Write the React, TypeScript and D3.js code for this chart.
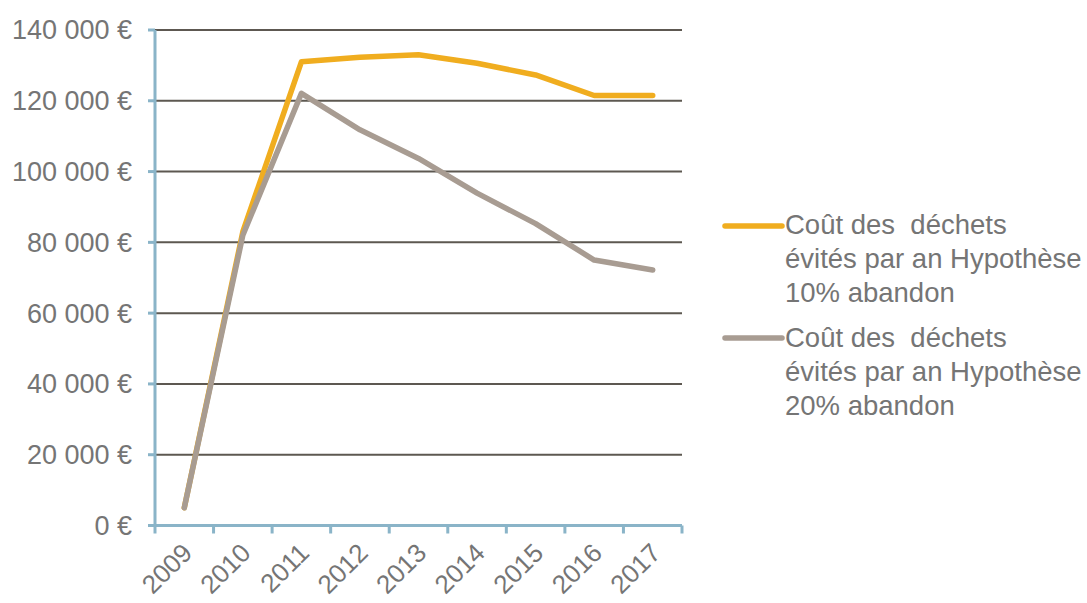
import React from "react";
import * as d3 from "d3";

const years = ["2009", "2010", "2011", "2012", "2013", "2014", "2015", "2016", "2017"];
const hyp10 = [5000, 83000, 131000, 132300, 133000, 130600, 127300, 121500, 121500];
const hyp20 = [5000, 82000, 122100, 111800, 103700, 93900, 85300, 75000, 72200];
const yTicks = [0, 20000, 40000, 60000, 80000, 100000, 120000, 140000];
const legend10 = ["Coût des  déchets", "évités par an Hypothèse", "10% abandon"];
const legend20 = ["Coût des  déchets", "évités par an Hypothèse", "20% abandon"];

const W = 1087;
const H = 603;
const FONT = "'Liberation Sans', Arial, sans-serif";
const TEXT = "#757575";
const AXIS = "#8ab4c8";
const GRID = "#5d5851";
const ORANGE = "#f0ad1f";
const GRAY = "#a89c92";

const fmt = (v: number) => {
  const s = d3.format(",")(v).replace(/,/g, " ");
  return s + " €";
};

export default function App() {
  const x = d3.scaleBand<string>().domain(years).range([155, 682]).padding(0);
  const y = d3.scaleLinear().domain([0, 140000]).range([525.5, 30]);
  const cx = (d: string) => (x(d) as number) + x.bandwidth() / 2;
  const line = d3
    .line<number>()
    .x((_, i) => cx(years[i]))
    .y((v) => y(v));
  const edges = [...years.map((d) => x(d) as number), 682];

  return (
    <svg width={W} height={H} style={{ position: "absolute", left: 0, top: 0, background: "#fff" }}>
      <rect x={0} y={0} width={W} height={H} fill="#fff" />
      {yTicks.filter((t) => t > 0).map((t) => (
        <line key={t} x1={155} x2={682} y1={y(t)} y2={y(t)} stroke={GRID} strokeWidth={2} />
      ))}
      {/* y axis */}
      <line x1={155} x2={155} y1={y(140000)} y2={y(0)} stroke={AXIS} strokeWidth={3} />
      {yTicks.map((t) => (
        <line key={"yt" + t} x1={148} x2={155} y1={y(t)} y2={y(t)} stroke={AXIS} strokeWidth={3} />
      ))}
      {yTicks.map((t) => (
        <text key={"yl" + t} x={132} y={y(t)} dy="0.35em" textAnchor="end" fill={TEXT} fontFamily={FONT} fontSize={27}>
          {fmt(t)}
        </text>
      ))}
      {/* x axis */}
      <line x1={148} x2={682} y1={y(0)} y2={y(0)} stroke={AXIS} strokeWidth={3} />
      {edges.map((e, i) => (
        <line key={"xt" + i} x1={e} x2={e} y1={y(0)} y2={y(0) + 8} stroke={AXIS} strokeWidth={3} />
      ))}
      {years.map((d) => (
        <text
          key={"xl" + d}
          transform={`translate(${cx(d) + 3},${548}) rotate(-45)`}
          textAnchor="end"
          dy="0.35em"
          fill={TEXT}
          fontFamily={FONT}
          fontSize={26}
        >
          {d}
        </text>
      ))}
      {/* series */}
      <path d={line(hyp10) as string} fill="none" stroke={ORANGE} strokeWidth={5.5} strokeLinejoin="round" strokeLinecap="round" />
      <path d={line(hyp20) as string} fill="none" stroke={GRAY} strokeWidth={5.5} strokeLinejoin="round" strokeLinecap="round" />
      {/* legend */}
      <line x1={725} x2={782} y1={226} y2={226} stroke={ORANGE} strokeWidth={5.5} strokeLinecap="round" />
      {legend10.map((t, i) => (
        <text key={"l10" + i} x={785} y={234 + i * 34} fill={TEXT} fontFamily={FONT} fontSize={27.5} style={{ whiteSpace: "pre" }}>
          {t}
        </text>
      ))}
      <line x1={725} x2={782} y1={338} y2={338} stroke={GRAY} strokeWidth={5.5} strokeLinecap="round" />
      {legend20.map((t, i) => (
        <text key={"l20" + i} x={785} y={347 + i * 34} fill={TEXT} fontFamily={FONT} fontSize={27.5} style={{ whiteSpace: "pre" }}>
          {t}
        </text>
      ))}
    </svg>
  );
}
